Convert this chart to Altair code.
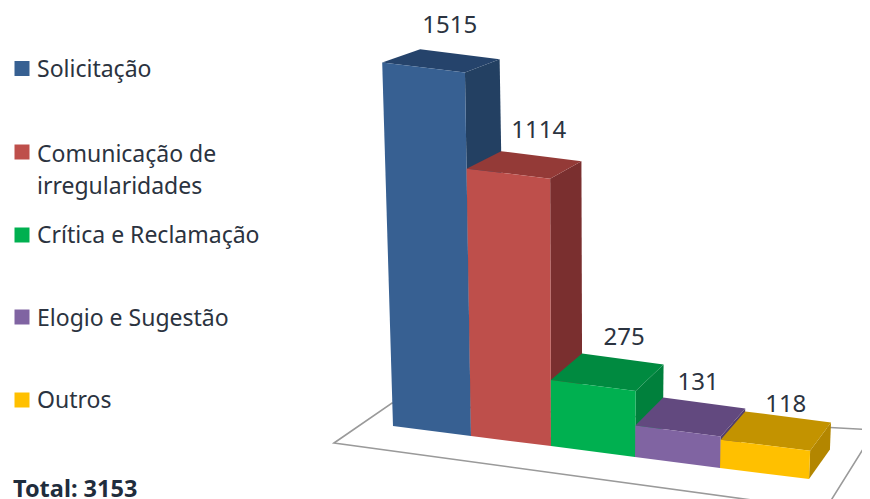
import altair as alt

# ---- data ----
categories = ["Solicitação", "Comunicação de irregularidades", "Crítica e Reclamação", "Elogio e Sugestão", "Outros"]
values = [1515, 1114, 275, 131, 118]
total_label = "Total: 3153"

# ---- colours ----
front_colors = ["#376092", "#BE4F4B", "#00B050", "#8064A2", "#FFC000"]
top_colors = ["#25436B", "#943A37", "#008A40", "#62497F", "#C39300"]
side_colors = ["#234062", "#7A2F2F", "#00803C", "#533E6C", "#B38600"]

# ---- perspective floor model (page pixels) ----
OFF = 8
base_x = [393, 471, 551, 635, 720, 809]
base_y = [426, 436, 446, 457, 468, 479]
floor = [(334, 443), (392, 403), (875, 430), (825, 510)]
PX_PER_UNIT = 0.24
label_shift = [(8, -16.5), (14, -13.5), (16, -8.5), (7, -7.6), (9, 0.5)]


def top_point(x, y, value):
    h = value * PX_PER_UNIT
    return x + h * (x - 570) * 0.000168, y - h, h


def back(x, y, h):
    return x + 38 - (x - 382) * 0.04, y - (29.5 - 0.045 * h)


def feature(points, fill, stroke="none", name=""):
    ring = [[px - OFF, py - OFF] for px, py in points]
    ring.append(ring[0])
    return {
        "type": "Feature",
        "geometry": {"type": "Polygon", "coordinates": [ring]},
        "properties": {"fill": fill, "stroke": stroke, "name": name},
    }


features = []
labels = []
for i, v in enumerate(values):
    x0, y0 = base_x[i], base_y[i]
    x1, y1 = base_x[i + 1], base_y[i + 1]
    tlx, tly, h0 = top_point(x0, y0, v)
    trx, try_, h1 = top_point(x1, y1, v)
    blx, bly = back(tlx, tly, h0)
    brx, bry = back(trx, try_, h1)
    gx, gy = back(x1, y1, 0)
    features.append(feature([(x1, y1), (gx, gy), (brx, bry), (trx, try_)], side_colors[i], name=categories[i] + " lado"))
    features.append(feature([(tlx, tly), (blx, bly), (brx, bry), (trx, try_)], top_colors[i], name=categories[i] + " topo"))
    features.append(feature([(x0, y0), (x1, y1), (trx, try_), (tlx, tly)], front_colors[i], name=categories[i]))
    cx = (tlx + trx + blx + brx) / 4
    labels.append({"t": str(v), "x": cx + label_shift[i][0] - OFF, "y": min(bly, bry) + label_shift[i][1] - OFF})

floor_chart = alt.Chart(alt.Data(values=[feature(floor, "#ffffff", "#9a9a9a", "piso")])).mark_geoshape(
    fill="#ffffff", stroke="#9a9a9a", strokeWidth=1.6, clip=True
).project(type="identity", scale=1, translate=[0, 0])

bars = alt.Chart(alt.Data(values=features)).mark_geoshape(strokeWidth=0, clip=True).encode(
    fill=alt.Fill("properties.fill:N", scale=None)
).project(type="identity", scale=1, translate=[0, 0])

xs = alt.X("x:Q", scale=None, axis=None)
ys = alt.Y("y:Q", scale=None, axis=None)

value_text = alt.Chart(alt.Data(values=labels)).mark_text(
    font="Noto Sans", fontSize=24, color="#2b3340", baseline="alphabetic", align="center"
).encode(x=xs, y=ys, text="t:N")

legend_rows = [
    {"t": categories[0], "x": 37 - OFF, "y": 77 - OFF},
    {"t": "Comunicação de", "x": 37 - OFF, "y": 162 - OFF},
    {"t": "irregularidades", "x": 37 - OFF, "y": 194 - OFF},
    {"t": categories[2], "x": 37 - OFF, "y": 243 - OFF},
    {"t": categories[3], "x": 37 - OFF, "y": 326 - OFF},
    {"t": categories[4], "x": 37 - OFF, "y": 408 - OFF},
]
legend_text = alt.Chart(alt.Data(values=legend_rows)).mark_text(
    font="Noto Sans", fontSize=23, color="#2b3340", baseline="alphabetic", align="left"
).encode(x=xs, y=ys, text="t:N")

key_y = [68.5, 152, 235, 317, 400]
keys = [{"x": 22 - OFF, "y": key_y[i] - OFF, "c": front_colors[i]} for i in range(5)]
legend_keys = alt.Chart(alt.Data(values=keys)).mark_square(size=225, opacity=1).encode(
    x=xs, y=ys, fill=alt.Fill("c:N", scale=None)
)

total = alt.Chart(alt.Data(values=[{"t": total_label, "x": 13 - OFF, "y": 497 - OFF}])).mark_text(
    font="Noto Sans", fontSize=23.5, fontWeight="bold", color="#1f2d3d", baseline="alphabetic", align="left"
).encode(x=xs, y=ys, text="t:N")

chart = alt.layer(floor_chart, bars, value_text, legend_keys, legend_text, total).properties(
    width=854, height=491, padding=0, autosize=alt.AutoSizeParams(type="none")
).configure_view(stroke=None)

chart.save("out.html", embed_options={"renderer": "svg", "actions": False})
